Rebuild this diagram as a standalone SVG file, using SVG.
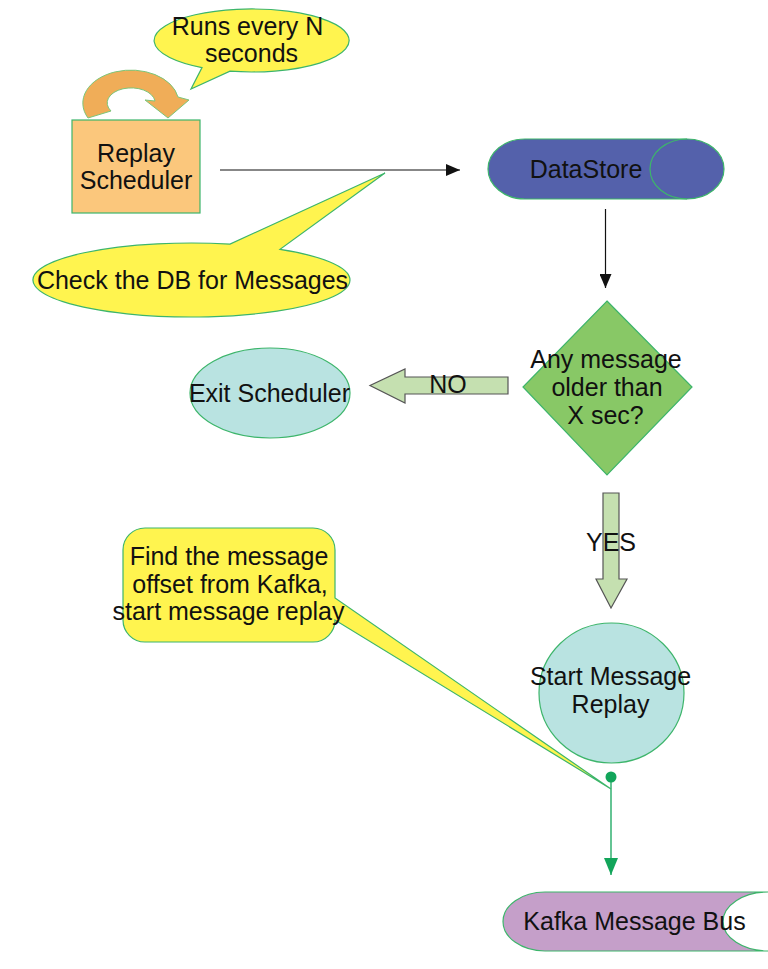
<svg xmlns="http://www.w3.org/2000/svg" width="768" height="969" viewBox="0 0 768 969">
<defs>
<style>
text{font-family:"Liberation Sans",Arial,sans-serif;font-size:25px;fill:#111;text-anchor:middle}
.call{fill:#fff44f;stroke:#3db56b;stroke-width:1.2}
.node{stroke:#3db56b;stroke-width:1.2}
.blk{fill:#c5e0b0;stroke:#555;stroke-width:1.2}
.conn{stroke:#111;stroke-width:1.2;fill:none}
</style>
<marker id="ab" viewBox="0 0 14 12" refX="14" refY="6" markerWidth="14" markerHeight="12" markerUnits="userSpaceOnUse" orient="auto">
<path d="M0,0 L14,6 L0,12 Z" fill="#111"/>
</marker>
<marker id="ag" viewBox="0 0 17 14" refX="17" refY="7" markerWidth="17" markerHeight="14" markerUnits="userSpaceOnUse" orient="auto">
<path d="M0,0 L17,7 L0,14 Z" fill="#12a55a"/>
</marker>
</defs>
<rect width="768" height="969" fill="#fff"/>

<g id="connectors">
<line class="conn" x1="220" y1="170" x2="460" y2="170" marker-end="url(#ab)"/>
<line class="conn" x1="605.5" y1="209" x2="605.5" y2="288" marker-end="url(#ab)"/>
<line x1="611" y1="777" x2="611" y2="875" stroke="#12a55a" stroke-width="1.3" marker-end="url(#ag)"/>
<circle cx="611" cy="777" r="5.5" fill="#12a55a"/>
</g>

<g id="loop-arrow">
<path d="M88,118 A48,33 0 1 1 178,97 L189,100 L168,118 L145,100 L155,101 A24,15 0 1 0 111,111 Z" fill="#f0ad58" stroke="#7cc67a" stroke-width="1"/>
</g>

<g id="replay-scheduler">
<rect x="72" y="120" width="128" height="93" fill="#fbc77c" class="node"/>
<text x="136" y="162">Replay</text>
<text x="136" y="189">Scheduler</text>
</g>

<g id="callout-runs">
<path class="call" d="M230,71.2 A97.5,31.5 0 1 0 202,67.6 L191,89 Z"/>
<text x="247.5" y="35">Runs every N</text>
<text x="251.5" y="62">seconds</text>
</g>

<g id="callout-check">
<path class="call" d="M230,244.1 A158.5,37 0 1 0 280,249.3 L385,173 Z"/>
<text x="192.5" y="289">Check the DB for Messages</text>
</g>

<g id="datastore">
<path d="M525,139 L687,139 A37,30 0 0 1 687,199 L525,199 A37,30 0 0 1 525,139 Z" fill="#5461ab" class="node"/>
<path d="M687,139 A37,30 0 0 0 687,199" fill="none" stroke="#3db56b" stroke-width="1.2"/>
<text x="586" y="178">DataStore</text>
</g>

<g id="decision">
<polygon points="607,301 692,387 607,475 523,387" fill="#88c866" class="node"/>
<text x="606" y="368">Any message</text>
<text x="607" y="396">older than</text>
<text x="605.5" y="424">X sec?</text>
</g>

<g id="no-arrow">
<polygon class="blk" points="508,377 405,377 405,369 370,385.5 405,403 405,394 508,394"/>
<text x="448" y="393">NO</text>
</g>

<g id="exit-scheduler">
<ellipse cx="270" cy="393" rx="80" ry="45" fill="#b9e3e1" class="node"/>
<text x="269.5" y="402">Exit Scheduler</text>
</g>

<g id="yes-arrow">
<polygon class="blk" points="603,493 619,493 619,579 627,579 611,608 596,579 603,579"/>
<text x="611" y="551">YES</text>
</g>

<g id="start-replay">
<ellipse cx="611.5" cy="693" rx="72.5" ry="70" fill="#b9e3e1" class="node"/>
<text x="610.5" y="685">Start Message</text>
<text x="610.5" y="713">Replay</text>
</g>

<g id="callout-find">
<path class="call" d="M145,528 H313 A22,22 0 0 1 335,550 V598 L611,789 L335,620 A22,22 0 0 1 313,642 H145 A22,22 0 0 1 123,620 V550 A22,22 0 0 1 145,528 Z"/>
<text x="229" y="565">Find the message</text>
<text x="230" y="593">offset from Kafka,</text>
<text x="228.5" y="620">start message replay</text>
</g>

<g id="kafka">
<path d="M545,892 L768,892 A45,29.5 0 0 0 723,921.5 A45,29.5 0 0 0 768,951 L545,951 A42,29.5 0 0 1 503,921.5 A42,29.5 0 0 1 545,892 Z" fill="#c59fc9" class="node"/>
<text x="634.5" y="930">Kafka Message Bus</text>
</g>
</svg>
